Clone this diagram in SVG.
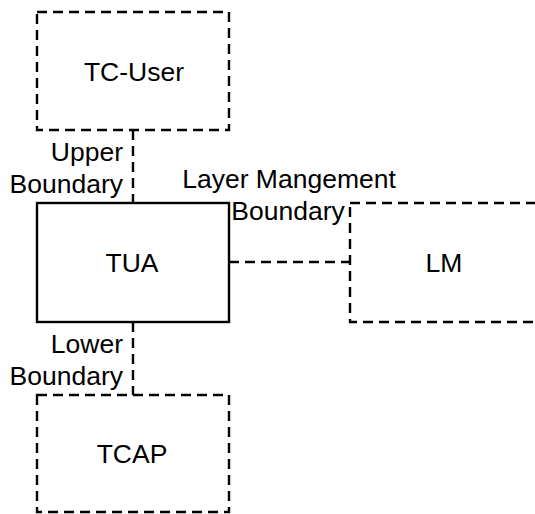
<svg xmlns="http://www.w3.org/2000/svg" width="535" height="514" viewBox="0 0 535 514">
<style>
.dash{fill:none;stroke:#000;stroke-width:2.4;stroke-dasharray:10 6}
.solid{fill:#fff;stroke:#000;stroke-width:2.4}
text{font-family:"Liberation Sans",Arial,sans-serif;font-size:26.5px;fill:#000}
.c{text-anchor:middle}
.r{text-anchor:end}
</style>
<rect width="535" height="514" fill="#fff"/>
<g id="connectors">
<line class="dash" x1="133" y1="130" x2="133" y2="203"/>
<line class="dash" x1="133" y1="322" x2="133" y2="395"/>
<line class="dash" x1="229" y1="262" x2="350" y2="262"/>
<text class="r" x="123" y="161">Upper</text>
<text class="r" x="123" y="193">Boundary</text>
<text class="r" x="123" y="353">Lower</text>
<text class="r" x="123" y="385">Boundary</text>
<text class="c" x="289" y="188">Layer Mangement</text>
<text class="c" x="288" y="220">Boundary</text>
</g>
<g id="tc-user">
<rect class="dash" x="37" y="12" width="192" height="118"/>
<text class="c" x="134" y="81">TC-User</text>
</g>
<g id="tua">
<rect class="solid" x="37" y="203" width="192" height="119"/>
<text class="c" x="132" y="272">TUA</text>
</g>
<g id="lm">
<rect class="dash" x="350" y="203" width="192" height="119"/>
<text class="c" x="444" y="272">LM</text>
</g>
<g id="tcap">
<rect class="dash" x="37" y="395" width="192" height="117"/>
<text class="c" x="132" y="463">TCAP</text>
</g>
</svg>
